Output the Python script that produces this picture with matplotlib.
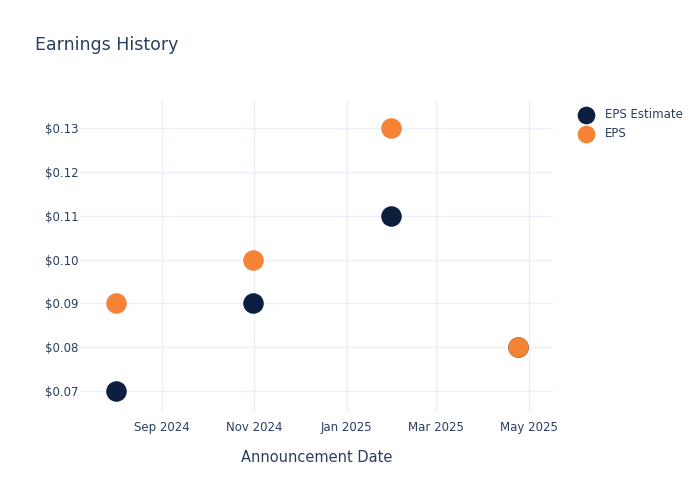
import matplotlib.pyplot as plt
import matplotlib.dates as mdates
import numpy as np

# Earnings data
dates = np.array(['2024-08-02', '2024-10-31', '2025-01-30', '2025-04-24'], dtype='datetime64[D]')
eps_estimate = [0.07, 0.09, 0.11, 0.08]
eps_actual = [0.09, 0.10, 0.13, 0.08]

text_color = '#2a3f5f'
grid_color = '#ebf0f8'

fig = plt.figure(figsize=(7, 5), dpi=100)
ax = fig.add_axes([0.114, 0.174, 0.676, 0.626])

ax.scatter(dates, eps_estimate, s=190, color='#0c1f3f', label='EPS Estimate', zorder=3)
ax.scatter(dates, eps_actual, s=190, color='#f58235', label='EPS', zorder=4)

ax.set_xlim(np.datetime64('2024-07-09'), np.datetime64('2025-05-17'))
ax.set_ylim(0.065, 0.1364)

ax.xaxis.set_major_locator(mdates.MonthLocator(bymonth=[1, 3, 5, 7, 9, 11]))
ax.xaxis.set_major_formatter(mdates.DateFormatter('%b %Y'))
ax.set_yticks([0.07, 0.08, 0.09, 0.10, 0.11, 0.12, 0.13])
ax.yaxis.set_major_formatter(plt.FuncFormatter(lambda v, p: f'${v:.2f}'))

for s in ax.spines.values():
    s.set_visible(False)
ax.grid(True, color=grid_color, linewidth=1)
ax.set_axisbelow(True)
ax.tick_params(length=0, labelsize=8.5, colors=text_color)
ax.tick_params(axis='x', pad=6)
ax.tick_params(axis='y', pad=1)

ax.set_xlabel('Announcement Date', fontsize=10.5, color=text_color, labelpad=11)
fig.text(0.05, 0.91, 'Earnings History', fontsize=12.5, color=text_color, va='center')

leg = ax.legend(loc='upper left', bbox_to_anchor=(1.035, 0.99), frameon=False,
                fontsize=8.5, labelcolor=text_color, handletextpad=0.6,
                borderaxespad=0, markerscale=0.85)

plt.savefig('out.png', dpi=100)
